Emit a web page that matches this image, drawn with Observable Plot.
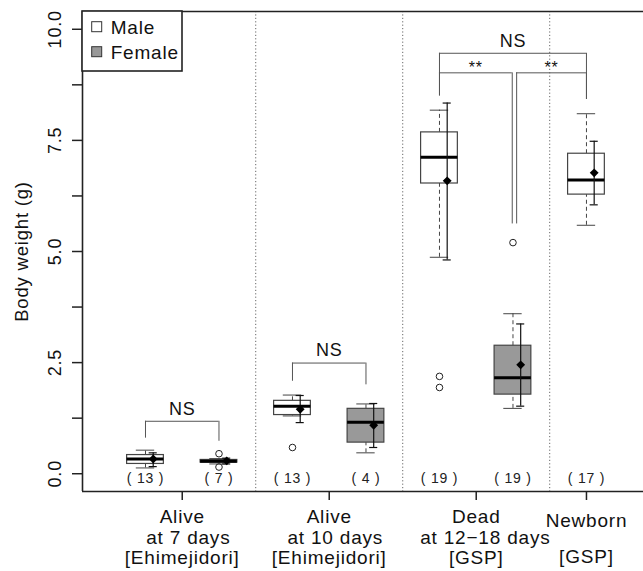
<!DOCTYPE html>
<html><head><meta charset="utf-8">
<script src="https://cdn.jsdelivr.net/npm/d3@7"></script>
<script src="https://cdn.jsdelivr.net/npm/@observablehq/plot@0.6"></script>
<style>body{margin:0;background:#fff;} svg{display:block;}</style>
</head><body><div id="chart"></div>
<script>
// ---- data ----
const positions = [1, 2, 3, 4, 5, 6, 7];
const sexes = ["Male", "Female", "Male", "Female", "Male", "Female", "Male"];
const counts = [13, 7, 13, 4, 19, 19, 17];
const whiskerLow = [0.13, 0.22, 1.30, 0.47, 4.87, 1.47, 5.59];
const q1 = [0.22, 0.25, 1.32, 0.70, 6.53, 1.78, 6.28];
const medians = [0.33, 0.28, 1.52, 1.16, 7.12, 2.16, 6.61];
const q3 = [0.42, 0.31, 1.64, 1.46, 7.68, 2.88, 7.20];
const whiskerHigh = [0.53, 0.34, 1.77, 1.57, 8.18, 3.60, 8.10];
const means = [0.33, 0.29, 1.45, 1.09, 6.59, 2.45, 6.77];
const errLow = [0.16, 0.22, 1.15, 0.59, 4.81, 1.52, 6.05];
const errHigh = [0.47, 0.35, 1.76, 1.58, 8.34, 3.37, 7.48];
const outliers = [[], [0.45, 0.15], [0.59], [], [2.19, 1.94], [5.20], []];
const groupSeparators = [2.5, 4.5, 6.5];
const groupTicks = [1.5, 3.5, 5.5, 7];
const groupLabels = ["Alive\n\u00a0\u00a0at 7 days\n[Ehimejidori]", "Alive\n\u00a0\u00a0at 10 days\n[Ehimejidori]", "Dead\n\u00a0\u00a0\u00a0at 12\u221218 days\n[GSP]", "Newborn\n\n[GSP]"];
const yTicks = [0, 1.25, 2.5, 3.75, 5, 6.25, 7.5, 8.75, 10];
const yLabels = [0, 2.5, 5, 7.5, 10];
const bracketLeft = [1, 3, 5, 5, 6.05];
const bracketRight = [2, 4, 7, 5.99, 7];
const bracketY = [1.18, 2.49, 9.46, 9.02, 9.02];
const legLeftEnd = [0.80, 2.08, 8.50, 8.50, 5.62];
const legRightEnd = [0.73, 2.00, 8.42, 5.62, 8.42];
const bracketLabels = ["NS", "NS", "NS", "**", "**"];
const legendItems = ["Male", "Female"];
const sexFill = {Male: "#ffffff", Female: "#999999"};

// ---- derived tables ----
const boxes = positions.map((p, i) => ({
  pos: p, sex: sexes[i], n: counts[i], lo: whiskerLow[i], q1: q1[i], med: medians[i],
  q3: q3[i], hi: whiskerHigh[i], mean: means[i], eLo: errLow[i], eHi: errHigh[i]
}));
const outlierPts = outliers.flatMap((vs, i) => vs.map(v => ({pos: positions[i], v})));
const brackets = bracketLeft.map((x1, i) => ({
  x1, x2: bracketRight[i], y: bracketY[i], yl: legLeftEnd[i], yr: legRightEnd[i], label: bracketLabels[i]
}));
const xLab = groupTicks.map((x, i) => ({x, label: groupLabels[i]}));

const HALF = 0.25, STAPLE = 0.125, SE_OFF = 0.105, CAP = 0.055;
const M = {left: 82, top: 11, right: 0, bottom: 80};
const boxStroke = "#444", axisStroke = "#222";
const FONT = "'Liberation Sans', Arial, sans-serif";

const chart = Plot.plot({
  width: 643, height: 571,
  marginLeft: M.left, marginRight: M.right, marginTop: M.top, marginBottom: M.bottom,
  x: {type: "linear", domain: [0.143, 7.776], axis: null},
  y: {domain: [-0.4, 10.4], axis: null},
  style: {fontFamily: FONT, background: "#fff", color: "#111", letterSpacing: "0.8px"},
  marks: [
    Plot.ruleX(groupSeparators, {stroke: "#666", strokeDasharray: "1.2,2.2", strokeWidth: 1}),
    // whiskers
    Plot.ruleX(boxes, {x: "pos", y1: "q3", y2: "hi", stroke: boxStroke, strokeDasharray: "4,3"}),
    Plot.ruleX(boxes, {x: "pos", y1: "lo", y2: "q1", stroke: boxStroke, strokeDasharray: "4,3"}),
    Plot.ruleY(boxes, {y: "hi", x1: d => d.pos - STAPLE, x2: d => d.pos + STAPLE, stroke: boxStroke}),
    Plot.ruleY(boxes, {y: "lo", x1: d => d.pos - STAPLE, x2: d => d.pos + STAPLE, stroke: boxStroke}),
    // boxes
    Plot.rect(boxes.filter(d => d.sex === "Male"), {x1: d => d.pos - HALF, x2: d => d.pos + HALF, y1: "q1", y2: "q3", fill: sexFill.Male, stroke: boxStroke, strokeWidth: 1.2}),
    Plot.rect(boxes.filter(d => d.sex === "Female"), {x1: d => d.pos - HALF, x2: d => d.pos + HALF, y1: "q1", y2: "q3", fill: sexFill.Female, stroke: boxStroke, strokeWidth: 1.2}),
    Plot.ruleY(boxes, {y: "med", x1: d => d.pos - HALF, x2: d => d.pos + HALF, stroke: "#000", strokeWidth: 3}),
    // mean +- error
    Plot.ruleX(boxes, {x: d => d.pos + SE_OFF, y1: "eLo", y2: "eHi", stroke: "#111", strokeWidth: 1.2}),
    Plot.ruleY(boxes, {y: "eLo", x1: d => d.pos + SE_OFF - CAP, x2: d => d.pos + SE_OFF + CAP, stroke: "#111", strokeWidth: 1.2}),
    Plot.ruleY(boxes, {y: "eHi", x1: d => d.pos + SE_OFF - CAP, x2: d => d.pos + SE_OFF + CAP, stroke: "#111", strokeWidth: 1.2}),
    Plot.dot(boxes, {x: d => d.pos + SE_OFF, y: "mean", symbol: "diamond2", r: 4, fill: "#000"}),
    // outliers
    Plot.dot(outlierPts, {x: "pos", y: "v", r: 3.3, stroke: "#222", fill: "none", strokeWidth: 1}),
    // brackets
    Plot.ruleY(brackets, {y: "y", x1: "x1", x2: "x2", stroke: "#555"}),
    Plot.ruleX(brackets, {x: "x1", y1: "y", y2: "yl", stroke: "#555"}),
    Plot.ruleX(brackets, {x: "x2", y1: "y", y2: "yr", stroke: "#555"}),
    Plot.text(brackets.filter(b => b.label === "NS"), {x: d => (d.x1 + d.x2) / 2, y: "y", dy: -12.5, text: "label", fontSize: 18}),
    Plot.text(brackets.filter(b => b.label !== "NS"), {x: d => (d.x1 + d.x2) / 2, y: "y", dy: -4.5, text: "label", fontSize: 16}),
    // counts
    Plot.text(boxes, {x: "pos", frameAnchor: "bottom", dy: -8.5, text: d => `( ${d.n} )`, fontSize: 14, fill: "#222"}),
    // frame lines
    Plot.ruleY([10.4], {stroke: axisStroke, strokeWidth: 1.6}),
    Plot.ruleY([-0.4], {stroke: axisStroke, strokeWidth: 1.6}),
    Plot.ruleX([0.143], {stroke: axisStroke, strokeWidth: 1.6}),
    // axes
    Plot.axisY({ticks: yTicks, tickSize: 10, tickFormat: () => "", label: null, stroke: axisStroke, strokeWidth: 1.5}),
    Plot.axisX({ticks: groupTicks, tickSize: 9, tickFormat: () => "", label: null, stroke: axisStroke, strokeWidth: 1.5}),
    Plot.text(yLabels, {y: d => d, frameAnchor: "left", textAnchor: "middle", dx: -27.5, rotate: -90, text: d => d3.format(".1f")(d), fontSize: 18}),
    Plot.text(["Body weight (g)"], {frameAnchor: "left", textAnchor: "middle", dx: -60, rotate: -90, fontSize: 18.5}),
    Plot.text(xLab.slice(0, 3), {x: "x", text: "label", frameAnchor: "bottom", lineAnchor: "top", dy: 17.2, fontSize: 19, lineHeight: 1.08}),
    Plot.text(xLab.slice(3), {x: "x", text: "label", frameAnchor: "bottom", lineAnchor: "top", dy: 22.2, fontSize: 19, lineHeight: 0.95})
  ]
});

// legend (top-left, inside the plot frame)
const g = d3.select(chart).append("g").attr("font-family", FONT).attr("text-anchor", "start");
g.append("rect").attr("x", M.left).attr("y", M.top).attr("width", 100).attr("height", 60)
  .attr("fill", "#fff").attr("stroke", axisStroke).attr("stroke-width", 1.6);
legendItems.forEach((s, i) => {
  g.append("rect").attr("x", M.left + 9.7).attr("y", M.top + 10.7 + i * 25).attr("width", 10).attr("height", 10)
    .attr("fill", sexFill[s]).attr("stroke", "#333").attr("stroke-width", 1);
  g.append("text").attr("x", M.left + 28.7).attr("y", M.top + 15.7 + i * 25).attr("dy", "0.36em")
    .attr("text-anchor", "start").attr("font-size", 19).attr("fill", "#111").text(s);
});

document.getElementById("chart").appendChild(chart);
</script>
</body></html>
